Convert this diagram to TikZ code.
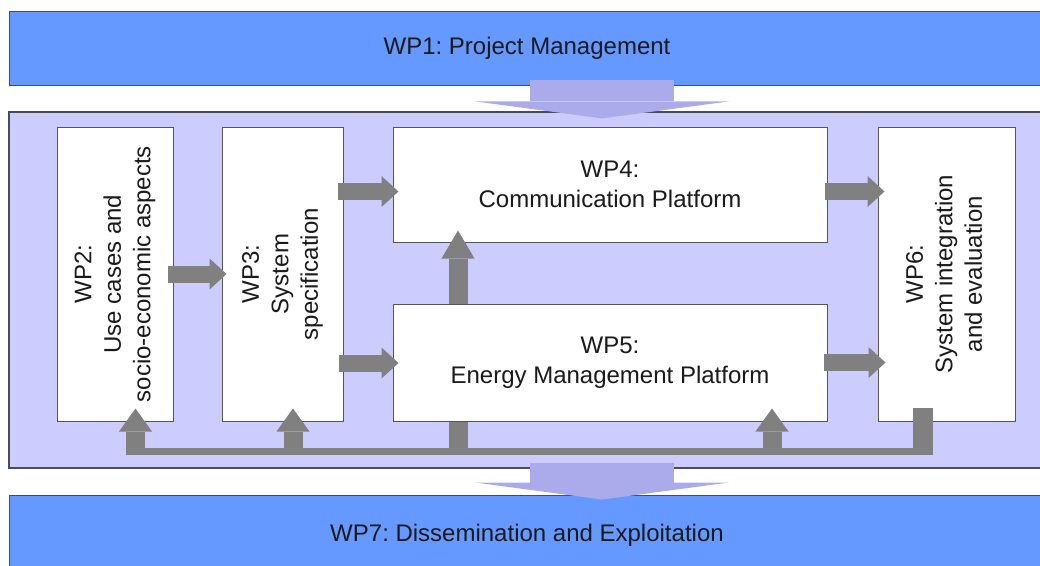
\documentclass[tikz,border=0pt]{standalone}
\usepackage{fontspec}
\setmainfont{Liberation Sans}
\usepackage{graphicx}
\usetikzlibrary{arrows.meta,calc}

\definecolor{barblue}{HTML}{6699FF}
\definecolor{panelfill}{HTML}{CCCCFF}
\definecolor{bigfill}{HTML}{ABABEB}
\definecolor{arrowgray}{HTML}{808080}
\definecolor{edgegray}{HTML}{4A4A5A}
\definecolor{boxedge}{HTML}{555555}
\definecolor{inkcol}{HTML}{1A1A1A}

\frenchspacing
\newcommand\wpfont{\fontsize{24}{29.5}\selectfont}
\newcommand\uplines[1]{\rotatebox{90}{\begin{tabular}{@{}c@{}}#1\end{tabular}}}

\begin{document}
\begin{tikzpicture}[x=1pt,y=-1pt,
  bar/.style={draw=edgegray, line width=1pt, fill=barblue, inner sep=0pt,
    minimum width=1036pt, text=inkcol, font=\wpfont},
  panelbox/.style={draw=edgegray, line width=1.2pt, fill=panelfill, inner sep=0pt,
    minimum width=1036pt, minimum height=356pt},
  wpbox/.style={draw=boxedge, line width=1pt, fill=white, inner sep=0pt,
    text=inkcol, font=\wpfont, align=center},
  flow/.style={draw=arrowgray, line width=17pt,
    -{Triangle[length=17pt,width=31pt,line width=0pt]}},
  rise/.style={draw=arrowgray, line width=19pt,
    -{Triangle[length=23pt,width=33pt,line width=0pt]}},
  stub/.style={draw=arrowgray, line width=19pt},
  busline/.style={draw=arrowgray, line width=7pt},
  bigarrow/.style={draw=bigfill, line width=144pt,
    -{Triangle[length=17pt,width=254pt,line width=0pt]}}
]
\useasboundingbox (0,0) rectangle (1040,565);

% outer bars and the work area
\node[bar, minimum height=74pt] (wp1) at (527,48) {WP1: Project Management};
\node[bar, minimum height=80pt] (wp7) at (527,535) {WP7: Dissemination and Exploitation};
\node[panelbox] (panel) at (527,290) {};

% work packages
\node[wpbox, minimum width=116pt, minimum height=294pt] (wp2) at (115,274)
  {\uplines{WP2:\\Use cases and\\socio-economic aspects}};
\node[wpbox, minimum width=121pt, minimum height=294pt] (wp3) at (282.5,274)
  {\uplines{WP3:\\System\\specification}};
\node[wpbox, minimum width=434pt, minimum height=115pt] (wp4) at (610,184.5)
  {WP4:\\Communication Platform};
\node[wpbox, minimum width=434pt, minimum height=117pt] (wp5) at (610,362.5)
  {WP5:\\Energy Management Platform};
\node[wpbox, minimum width=137pt, minimum height=294pt] (wp6) at (946.5,274)
  {\uplines{WP6:\\System integration\\and evaluation}};

% flow between work packages
\draw[flow] ($(wp2.east)+(-6,0)$) -- ($(wp3.west)+(5,0)$);
\draw[flow] ($(wp3.east |- wp4.west)+(-6,7)$) -- ($(wp4.west)+(6,7)$);
\draw[flow] ($(wp3.east |- wp5.west)+(-5,0.5)$) -- ($(wp5.west)+(6,0.5)$);
\draw[flow] ($(wp4.east)+(-3,7)$) -- ($(wp6.west |- wp4.east)+(7,7)$);
\draw[flow] ($(wp5.east)+(-4,0)$) -- ($(wp6.west |- wp5.east)+(8,0)$);
\draw[rise, -{Triangle[length=28pt,width=33pt,line width=0pt]}]
  ($(wp5.north)+(-152,0)$) -- ($(wp4.south)+(-152,-12)$);

% feedback bus along the bottom
\coordinate (busL) at (126,451);
\coordinate (busR) at (933,451);
\coordinate (tap2) at (135.5,454.5);
\coordinate (tap3) at (293,454.5);
\coordinate (tap5) at (458,454.5);
\coordinate (tap5b) at (772,454.5);
\coordinate (tap6) at (923,454.5);

\draw[busline] (busL) -- (busR);
\draw[stub] (tap5 |- wp5.south) -- (tap5);
\draw[stub, line width=20pt] ([yshift=14pt]tap6 |- wp6.south) -- (tap6);
\draw[rise] (tap2) -- ([yshift=13pt]tap2 |- wp2.south);
\draw[rise] (tap3) -- ([yshift=13pt]tap3 |- wp3.south);
\draw[rise] (tap5b) -- ([yshift=13pt]tap5b |- wp5.south);

% management input and dissemination output
\draw[bigarrow] ($(wp1.south)+(75,-6)$) -- ($(panel.north)+(75,7)$);
\draw[bigarrow] ($(panel.south)+(75,-6)$) -- ($(wp7.north)+(75,5)$);
\end{tikzpicture}
\end{document}
